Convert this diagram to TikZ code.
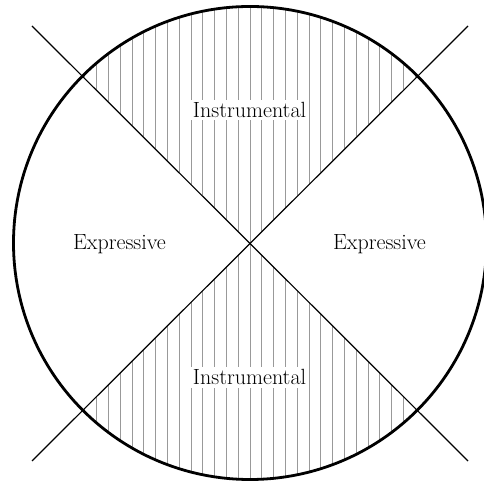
\documentclass[tikz,border=0pt]{standalone}
\begin{document}
\begin{tikzpicture}[x=1pt,y=1pt,
  hatch/.style={draw=black!40, line width=0.7pt},
  rim/.style={line width=2.8pt},
  cross/.style={line width=1.2pt},
  lab/.style={font=\fontsize{22}{26}\selectfont, fill=white, inner sep=2.5pt, anchor=base}]
\useasboundingbox (0,0) rectangle (483,486);
\coordinate (C) at (250,243);
% upper hatched sector
\begin{scope}
  \clip (C) circle (236.5);
  \clip (C) -- ++(-300,300) -- ++(600,0) -- cycle;
  \foreach \k in {-20,...,20} \draw[hatch] ({250+11.8*\k},0) -- ({250+11.8*\k},486);
\end{scope}
% lower hatched sector
\begin{scope}
  \clip (C) circle (236.5);
  \clip (C) -- ++(-300,-300) -- ++(600,0) -- cycle;
  \foreach \k in {-20,...,20} \draw[hatch] ({250+11.8*\k},0) -- ({250+11.8*\k},486);
\end{scope}
\draw[rim] (C) circle (236.5);
\coordinate (ul) at (32,460);
\coordinate (lr) at (468,25);
\coordinate (ur) at (468,460);
\coordinate (ll) at (32,25);
\draw[cross] (ul) -- (lr);
\draw[cross] (ur) -- (ll);
\node[lab] (itop) at (249.5,368.5) {Instrumental};
\node[lab] (ibot) at (249.5,101) {Instrumental};
\node[lab] (eleft) at (119.5,236) {Expressive};
\node[lab] (eright) at (379.5,236) {Expressive};
\end{tikzpicture}
\end{document}
